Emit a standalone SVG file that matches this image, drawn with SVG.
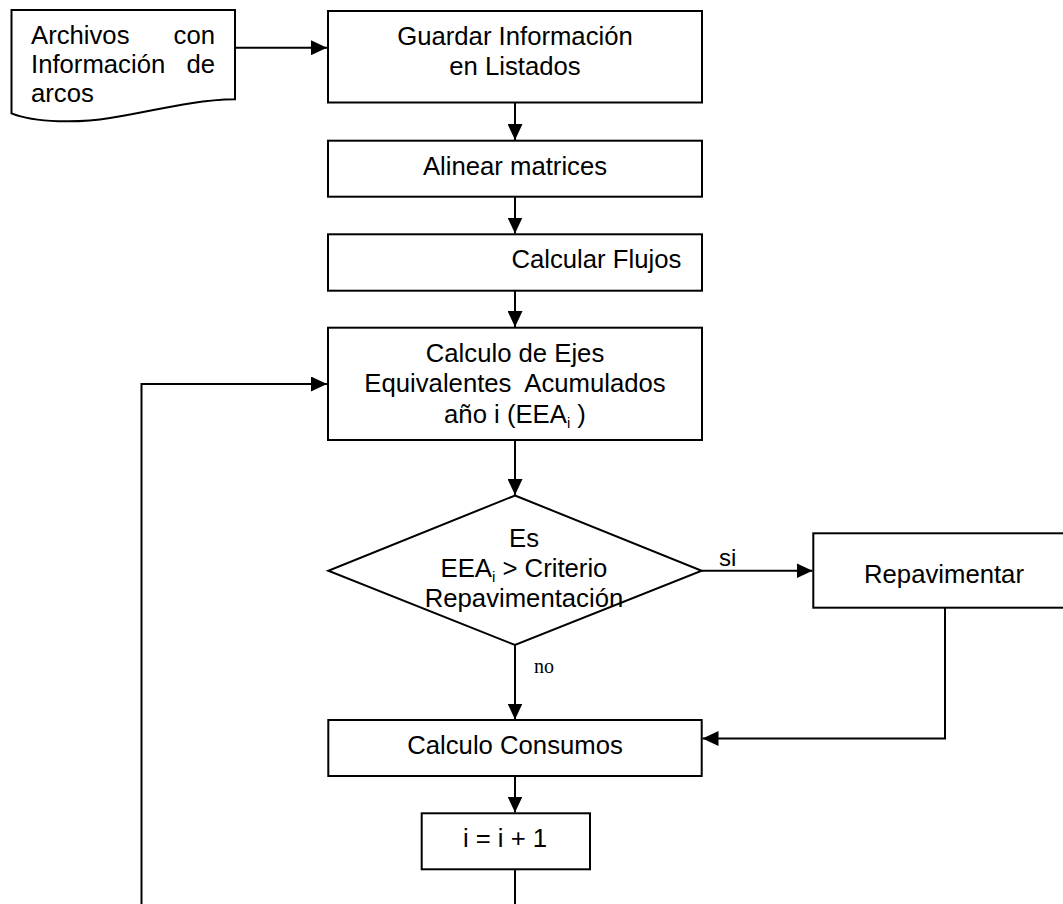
<svg xmlns="http://www.w3.org/2000/svg" width="1063" height="904" viewBox="0 0 1063 904">
<style>
.box{fill:#fff;stroke:#000;stroke-width:2}
.t{font-family:"Liberation Sans",Arial,sans-serif;font-size:25.7px;fill:#000}
.c{text-anchor:middle}
.sub{font-size:15px}
.serif{font-family:"Liberation Serif","Times New Roman",serif;font-size:20px;fill:#000}
.line{fill:none;stroke:#000;stroke-width:2}
</style>
<defs>
<marker id="ah" markerUnits="userSpaceOnUse" markerWidth="17" markerHeight="15" refX="16" refY="7.5" orient="auto">
<path d="M0,0 L16,7.5 L0,15 Z" fill="#000"/>
</marker>
</defs>
<rect width="1063" height="904" fill="#fff"/>
<g id="connectors">
<path class="line" d="M235,47.7 H327" marker-end="url(#ah)"/>
<path class="line" d="M515,102.5 V140" marker-end="url(#ah)"/>
<path class="line" d="M515,196.7 V233.5" marker-end="url(#ah)"/>
<path class="line" d="M515,290.7 V327" marker-end="url(#ah)"/>
<path class="line" d="M515,440 V495" marker-end="url(#ah)"/>
<path class="line" d="M701.7,570.7 H812.5" marker-end="url(#ah)"/>
<path class="line" d="M515,645 V719.5" marker-end="url(#ah)"/>
<path class="line" d="M945,607.7 V738.5 H702.5" marker-end="url(#ah)"/>
<path class="line" d="M515,776 V812.5" marker-end="url(#ah)"/>
<path class="line" d="M515,869.3 V910"/>
<path class="line" d="M141.5,910 V384 H327" marker-end="url(#ah)"/>
</g>
<g id="archivos">
<path class="box" d="M11.5,10 H235 V99.3 C190,100 150,112 110,118 C80,123 35,123 11.5,113.3 Z"/>
<text class="t" x="31" y="44">Archivos</text>
<text class="t" x="215" y="44" text-anchor="end">con</text>
<text class="t" x="31" y="73">Información</text>
<text class="t" x="215" y="73" text-anchor="end">de</text>
<text class="t" x="31" y="102">arcos</text>
</g>
<g id="guardar">
<rect class="box" x="328" y="11" width="374" height="91.5"/>
<text class="t c" x="515" y="44.5">Guardar Información</text>
<text class="t c" x="515" y="74.5">en Listados</text>
</g>
<g id="alinear">
<rect class="box" x="328" y="140.7" width="374" height="56"/>
<text class="t c" x="515" y="175">Alinear matrices</text>
</g>
<g id="flujos">
<rect class="box" x="328" y="234.3" width="374" height="56.4"/>
<text class="t" x="511.4" y="268.3">Calcular Flujos</text>
</g>
<g id="ejes">
<rect class="box" x="328" y="327.7" width="374" height="112.3"/>
<text class="t c" x="515" y="361.5">Calculo de Ejes</text>
<text class="t c" x="515" y="392" xml:space="preserve">Equivalentes  Acumulados</text>
<text class="t c" x="515" y="423">año i (EEA<tspan class="sub" dy="5">i</tspan><tspan dy="-5"> )</tspan></text>
</g>
<g id="decision">
<polygon class="box" points="515,495.5 701.7,570.7 515,645 328.3,570.7"/>
<text class="t c" x="524" y="547.3">Es</text>
<text class="t c" x="524" y="577.3">EEA<tspan class="sub" dy="5">i</tspan><tspan dy="-5"> &gt; Criterio</tspan></text>
<text class="t c" x="524" y="606.7">Repavimentación</text>
<text class="t" x="719" y="566" style="font-size:24px">si</text>
<text class="serif" x="534" y="673">no</text>
</g>
<g id="repavimentar">
<rect class="box" x="813.3" y="533.3" width="260" height="74.4"/>
<text class="t c" x="944" y="582.7">Repavimentar</text>
</g>
<g id="consumos">
<rect class="box" x="328.3" y="720" width="373.4" height="56"/>
<text class="t c" x="515" y="754">Calculo Consumos</text>
</g>
<g id="incremento">
<rect class="box" x="421.7" y="813.3" width="168.3" height="56"/>
<text class="t c" x="505" y="846.7">i = i + 1</text>
</g>
</svg>
